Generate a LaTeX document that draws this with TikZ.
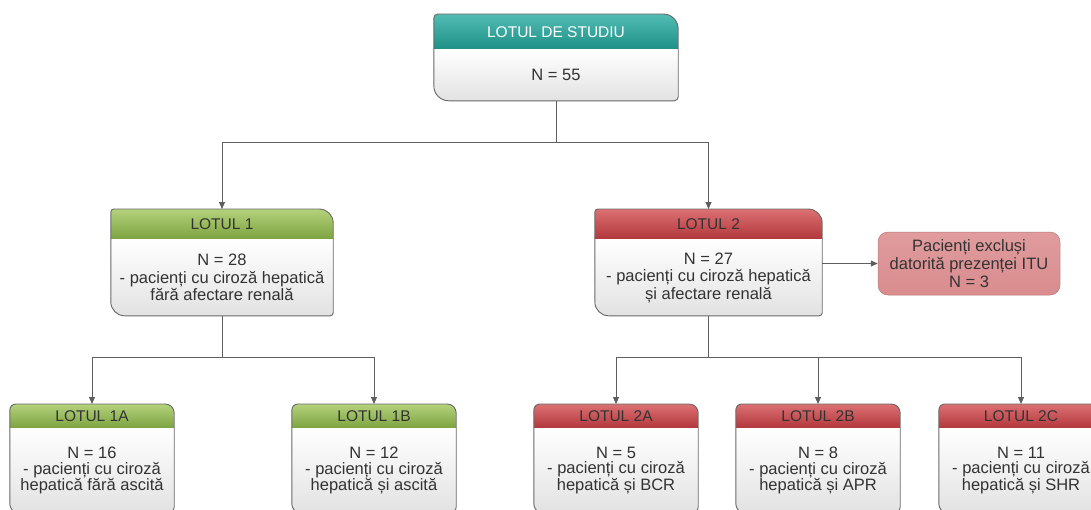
\documentclass[tikz,border=0pt]{standalone}
\usepackage{fontspec}
\setmainfont{Liberation Sans}
\usetikzlibrary{positioning, arrows.meta, backgrounds}

\definecolor{tealtop}{HTML}{52BCB3}
\definecolor{tealbot}{HTML}{1E9087}
\definecolor{greentop}{HTML}{B4D27C}
\definecolor{greenbot}{HTML}{7CA23F}
\definecolor{redtop}{HTML}{DC7173}
\definecolor{redbot}{HTML}{B1363B}
\definecolor{bodybot}{HTML}{E2E2E2}
\definecolor{bordgray}{HTML}{6A6A6A}
\definecolor{linkgray}{HTML}{5E5E5E}
\definecolor{txtgray}{HTML}{333333}
\definecolor{exclfill}{HTML}{D98C8E}
\definecolor{excltop}{HTML}{E09C9E}

% outline of a box: header node on top, body node below
\newcommand{\lotpath}[4]{%
  ([yshift=-#3]#1.north west) arc[start angle=180, end angle=90, radius=#3]
  -- ([xshift=-#4]#1.north east) arc[start angle=90, end angle=0, radius=#4]
  -- ([yshift=#3]#2.south east) arc[start angle=0, end angle=-90, radius=#3]
  -- ([xshift=#4]#2.south west) arc[start angle=270, end angle=180, radius=#4]
  -- cycle}
\newcommand{\lotfill}[6]{%
  \begin{scope}
    \clip \lotpath{#1}{#2}{#3}{#4};
    \fill[top color=#5, bottom color=#6] (#1.north west) rectangle (#1.south east);
    \fill[top color=white, bottom color=bodybot] (#2.north west) rectangle (#2.south east);
  \end{scope}
  \draw[bordgray, line width=0.9pt] \lotpath{#1}{#2}{#3}{#4};
}

\begin{document}
\begin{tikzpicture}[x=1pt, y=1pt,
    lothead/.style={minimum width=#1, minimum height=30pt, inner sep=0pt,
        text=txtgray, font=\fontsize{15.5}{16}\selectfont},
    lotbody/.style 2 args={minimum width=#1, minimum height=#2, inner sep=0pt,
        align=center, text=txtgray, font=\fontsize{16.5}{17.5}\selectfont},
    excluded/.style={minimum width=182pt, minimum height=63pt, inner sep=0pt,
        align=center, text=txtgray, font=\fontsize{16.5}{18}\selectfont,
        rounded corners=10pt, draw=exclfill!85!black, line width=0.5pt,
        top color=excltop, bottom color=exclfill},
    link/.style={draw=linkgray, line width=0.8pt},
    arr/.style={link, -{Triangle[length=7pt, width=6pt]}},
]
\useasboundingbox (0,0) rectangle (1091,-509);

% lotul de studiu
\node (studiut) [lothead=244pt, minimum height=35pt, text=white, anchor=north] at (556,-14) {LOTUL DE STUDIU};
\node (studiu) [lotbody={244pt}{51pt}, below=0pt of studiut] {N = 55};

% lotul 1 / lotul 2
\node (lot1t) [lothead=222pt, anchor=north] at (222,-209) {LOTUL 1};
\node (lot1) [lotbody={222pt}{76pt}, below=0pt of lot1t] {N = 28\\- pacienți cu ciroză hepatică\\fără afectare renală};
\node (lot2t) [lothead=227pt, anchor=north] at (708.5,-209) {LOTUL 2};
\node (lot2) [lotbody={227pt}{76pt}, below=0pt of lot2t] {N = 27\\- pacienți cu ciroză hepatică\\și afectare renală};
\node (excl) [excluded] at (969,-263.5) {Pacienți excluși\\datorită prezenței ITU\\N = 3};

% subloturi
\node (lot1at) [lothead=164pt, minimum height=24pt, anchor=north] at (92,-404) {LOTUL 1A};
\node (lot1a) [lotbody={164pt}{84pt}, font=\fontsize{16.5}{15.5}\selectfont, below=0pt of lot1at] {N = 16\\- pacienți cu ciroză\\hepatică fără ascită};
\node (lot1bt) [lothead=164pt, minimum height=24pt, anchor=north] at (374,-404) {LOTUL 1B};
\node (lot1b) [lotbody={164pt}{84pt}, font=\fontsize{16.5}{15.5}\selectfont, below=0pt of lot1bt] {N = 12\\- pacienți cu ciroză\\hepatică și ascită};
\node (lot2at) [lothead=164pt, minimum height=24pt, anchor=north] at (616,-404) {LOTUL 2A};
\node (lot2a) [lotbody={164pt}{84pt}, font=\fontsize{16.5}{15.5}\selectfont, below=0pt of lot2at] {N = 5\\- pacienți cu ciroză\\hepatică și BCR};
\node (lot2bt) [lothead=164pt, minimum height=24pt, anchor=north] at (818,-404) {LOTUL 2B};
\node (lot2b) [lotbody={164pt}{84pt}, font=\fontsize{16.5}{15.5}\selectfont, below=0pt of lot2bt] {N = 8\\- pacienți cu ciroză\\hepatică și APR};
\node (lot2ct) [lothead=164pt, minimum height=24pt, anchor=north] at (1021,-404) {LOTUL 2C};
\node (lot2c) [lotbody={164pt}{84pt}, font=\fontsize{16.5}{15.5}\selectfont, below=0pt of lot2ct] {N = 11\\- pacienți cu ciroză\\hepatică și SHR};

% connectors
\draw[arr] (studiu.south) -- ++(0,-42) -| (lot1t.north);
\draw[arr] (studiu.south) -- ++(0,-42) -| (lot2t.north);
\draw[arr] (lot2.east |- excl.west) -- (excl.west);
\foreach \sub in {lot1at, lot1bt}
    \draw[arr] (lot1.south) -- ++(0,-42) -| (\sub.north);
\foreach \sub in {lot2at, lot2bt, lot2ct}
    \draw[arr] (lot2.south) -- ++(0,-42) -| (\sub.north);

\begin{scope}[on background layer]
\lotfill{studiut}{studiu}{4pt}{15pt}{tealtop}{tealbot}
\lotfill{lot1t}{lot1}{3pt}{14pt}{greentop}{greenbot}
\lotfill{lot2t}{lot2}{3pt}{14pt}{redtop}{redbot}
\lotfill{lot1at}{lot1a}{6pt}{9pt}{greentop}{greenbot}
\lotfill{lot1bt}{lot1b}{6pt}{9pt}{greentop}{greenbot}
\lotfill{lot2at}{lot2a}{6pt}{9pt}{redtop}{redbot}
\lotfill{lot2bt}{lot2b}{6pt}{9pt}{redtop}{redbot}
\lotfill{lot2ct}{lot2c}{6pt}{9pt}{redtop}{redbot}
\end{scope}
\end{tikzpicture}
\end{document}
